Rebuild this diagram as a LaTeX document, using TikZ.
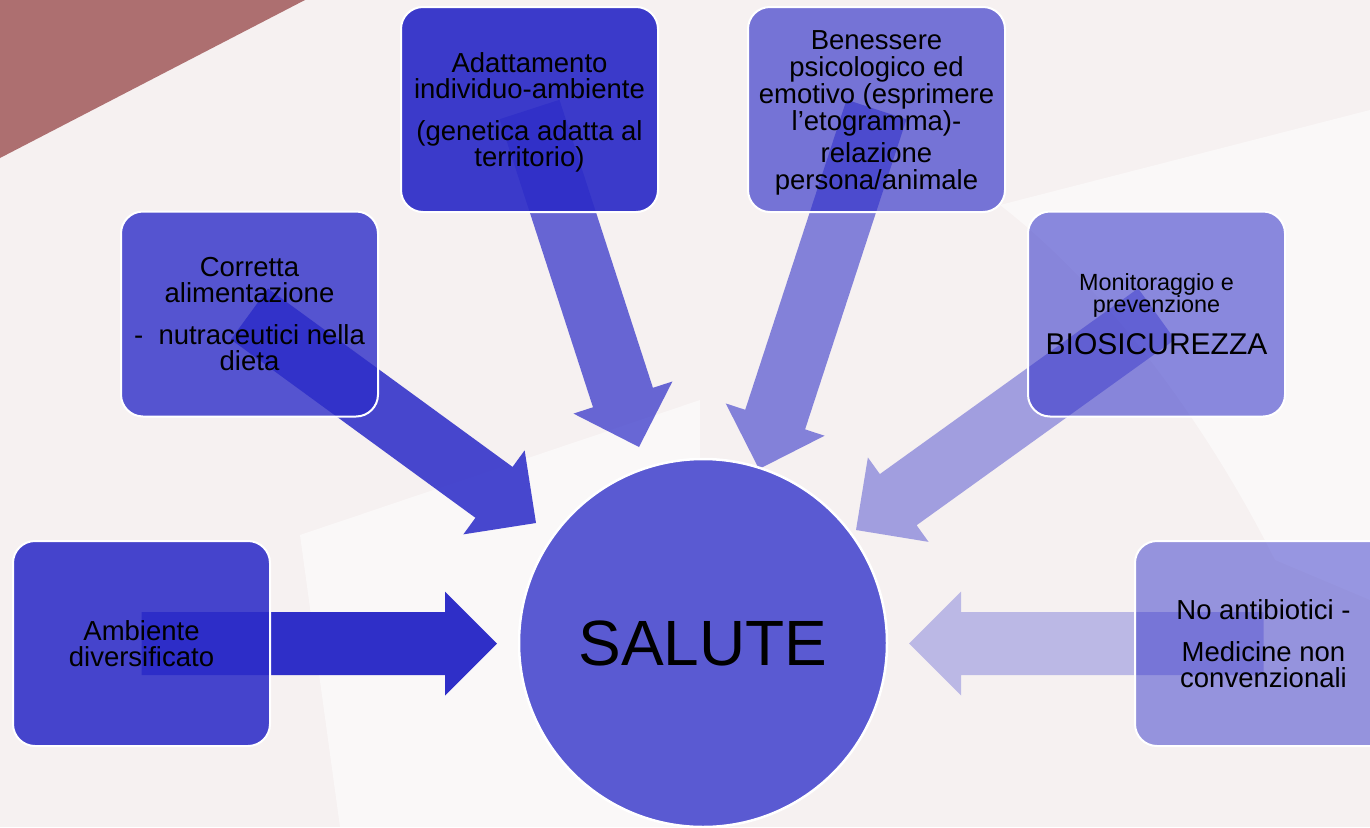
\documentclass[tikz,border=0pt]{standalone}
\usepackage{fontspec}
\setmainfont{Liberation Sans}
\usetikzlibrary{calc}
\pgfdeclarelayer{back}
\pgfdeclarelayer{arrows}
\pgfsetlayers{back,arrows,main}
\definecolor{bgc}{RGB}{246,241,241}
\definecolor{basec}{RGB}{45,45,200}
\definecolor{redtri}{RGB}{173,111,112}
\definecolor{circc}{RGB}{90,90,210}
\tikzset{
  box/.style={rectangle, rounded corners=22pt, minimum width=257pt, minimum height=205pt,
    draw=white, line width=2pt, fill=basec, text=black, text opacity=1, draw opacity=1,
    align=center, inner sep=0pt, font=\fontsize{27.5}{26}\selectfont},
  arrowfill/.style={fill=basec},
  lightarea/.style={fill=white, opacity=.5}
}
\newcommand\blockarr[3]{%
  \coordinate (hh) at ($(#3)!52pt!(#2)$);
  \fill[arrowfill, fill opacity=#1] ($(#2)!31.5pt!90:(#3)$) -- ($(hh)!31.5pt!90:(#3)$)
    -- ($(hh)!52pt!90:(#3)$) -- (#3) -- ($(hh)!52pt!-90:(#3)$)
    -- ($(hh)!31.5pt!-90:(#3)$) -- ($(#2)!31.5pt!-90:(#3)$) -- cycle;}
\begin{document}
\begin{tikzpicture}[x=1pt,y=-1pt]
\begin{pgfonlayer}{back}
  \fill[bgc] (0,0) rectangle (1370,827);
  \fill[lightarea] (1000,205) -- (1370,110) -- (1370,600) -- (1275,560)
     .. controls (1210,430) and (1110,290) .. (1000,205);
  \fill[lightarea] (300,535) -- (700,400) -- (700,827) -- (340,827) -- cycle;
  \fill[redtri] (0,0) -- (305,0) -- (0,158) -- cycle;
\end{pgfonlayer}
\useasboundingbox (0,0) rectangle (1370,827);

\node[box, fill opacity=.88] (b1) at (141.5,643.5) {Ambiente\\diversificato};
\node[box, fill opacity=.80] (b2) at (249.5,314) {Corretta\\alimentazione\\[16pt]-\ \ nutraceutici nella\\dieta};
\node[box, fill opacity=.93] (b3) at (529.5,109.5) {\rule{0pt}{26pt}Adattamento\\individuo-ambiente\\[16pt](genetica adatta al\\territorio)};
\node[box, fill opacity=.64, font=\fontsize{27.5}{27}\selectfont] (b4) at (876.5,109.5) {\rule{0pt}{26pt}Benessere\\psicologico ed\\emotivo (esprimere\\l’etogramma)-\\[5pt]relazione\\persona/animale};
\node[box, fill opacity=.55, font=\fontsize{23.4}{21}\selectfont] (b5) at (1156.5,314)
  {Monitoraggio e\\prevenzione\\[15pt]\fontsize{30}{28}\selectfont BIOSICUREZZA};
\node[box, fill opacity=.48] (b6) at (1263.5,643.5) {No antibiotici -\\[16pt]Medicine non\\convenzionali};

\node[circle, fill=circc, draw=white, line width=2.5pt, minimum size=368pt, inner sep=0pt,
  font=\fontsize{64}{64}\selectfont] (salute) at (703,643) {SALUTE};

\coordinate (t1) at (497,643.5);
\coordinate (t2) at (536,523);
\coordinate (t3) at (639,447);
\coordinate (t4) at (759,469);
\coordinate (t5) at (856,530);
\coordinate (t6) at (909,643.5);

\begin{pgfonlayer}{arrows}
  \blockarr{.99}{b1.center}{t1}
  \blockarr{.87}{b2.center}{t2}
  \blockarr{.71}{b3.center}{t3}
  \blockarr{.57}{b4.center}{t4}
  \blockarr{.42}{b5.center}{t5}
  \blockarr{.29}{b6.center}{t6}
\end{pgfonlayer}
\end{tikzpicture}
\end{document}
